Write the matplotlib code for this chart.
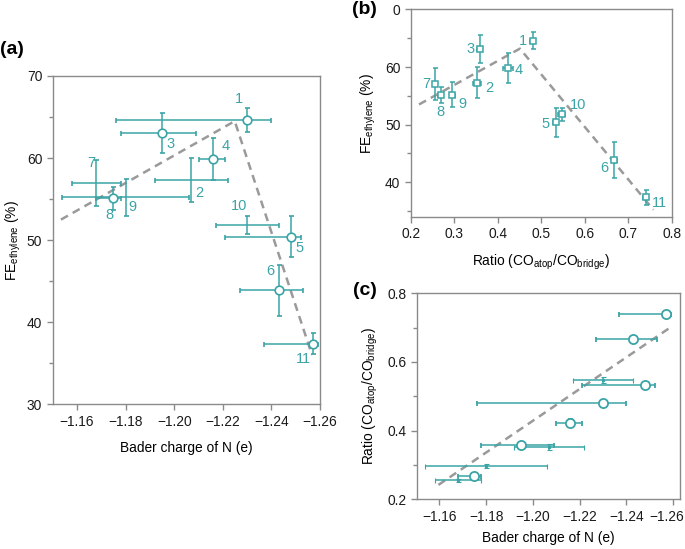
import matplotlib
matplotlib.use("Agg")
import matplotlib.pyplot as plt
import matplotlib.transforms as mtransforms
from matplotlib.ticker import MultipleLocator, FixedLocator
import numpy as np

plt.rcParams['font.family'] = ['Liberation Sans', 'DejaVu Sans']

# ---------------- data (samples 1..11) ----------------
samples = ['1', '2', '3', '4', '5', '6', '7', '8', '9', '10', '11']
bader = [-1.230, -1.207, -1.195, -1.216, -1.248, -1.243, -1.168, -1.175, -1.180, -1.230, -1.257]
bader_err_less = [0.054, 0.015, 0.017, 0.006, 0.027, 0.016, 0.010, 0.007, 0.026, 0.013, 0.020]  # toward less negative
bader_err_more = [0.010, 0.015, 0.014, 0.005, 0.004, 0.010, 0.010, 0.003, 0.026, 0.013, 0.002]  # toward more negative
fe = [64.6, 57.3, 63.1, 59.9, 50.4, 43.9, 57.0, 55.1, 55.2, 51.8, 37.4]
fe_err = [1.45, 2.65, 2.45, 2.6, 2.5, 3.1, 2.8, 1.4, 2.2, 1.1, 1.3]
ratio = [0.480, 0.352, 0.359, 0.423, 0.533, 0.668, 0.255, 0.269, 0.296, 0.547, 0.740]
ratio_err = [0.006, 0.009, 0.006, 0.012, 0.006, 0.006, 0.004, 0.006, 0.006, 0.008, 0.006]

# dashed trend lines (vertices)
trend_a_x = [-1.1534, -1.2249, -1.2567]
trend_a_y = [52.5, 64.5, 36.0]
trend_b_x = [0.219, 0.451, 0.758]
trend_b_y = [53.5, 63.2, 35.2]
trend_c_x = [-1.1596, -1.2593]
trend_c_y = [0.242, 0.703]

# samples drawn with an open marker in (a) and (c)
marked = {'1', '3', '4', '5', '6', '8', '11'}

TEAL = '#3ba4a6'
GRAY = '#8a8a8a'
DASH = '#9a9a9a'
FS = 9.9
NFS = 10.5

fig = plt.figure(figsize=(6.85, 5.49), dpi=100)

def style_axes(ax):
    for s in ax.spines.values():
        s.set_color(GRAY)
        s.set_linewidth(1.0)
    ax.tick_params(which='both', direction='out', color=GRAY, width=1.0,
                   labelsize=FS, labelcolor='#1a1a1a', top=False, right=False)
    ax.tick_params(which='major', length=4)
    ax.tick_params(which='minor', length=3)
    ax.tick_params(axis='x', which='minor', bottom=False)

# errorbar xerr = [minus side, plus side]; "plus" is the less negative side
xerr = np.array([bader_err_more, bader_err_less])

# ---------------- (a) ----------------
axa = fig.add_axes([0.0769, 0.2636, 0.3903, 0.598])
style_axes(axa)
axa.plot(trend_a_x, trend_a_y, ls=(0, (3.2, 2.2)), color=DASH, lw=1.8, zorder=1)
for i, s in enumerate(samples):
    fmt = 'o' if s in marked else 'none'
    axa.errorbar(bader[i], fe[i], xerr=xerr[:, i:i+1], yerr=fe_err[i], fmt=fmt,
                 ms=6.2, mfc='white', mec=TEAL, mew=1.2, ecolor=TEAL, elinewidth=1.1,
                 capsize=1.8, capthick=1.0, zorder=3)
offs_a = {'1': (-6, 15), '2': (6, -9), '3': (6, -8), '4': (9, 9), '5': (6, -8),
          '6': (-6, 14), '7': (-4, 14), '8': (-3, -12), '9': (5, -7), '10': (-6, 14),
          '11': (-7, -11)}
for i, s in enumerate(samples):
    axa.annotate(s, (bader[i], fe[i]), xytext=offs_a[s], textcoords='offset points',
                 ha='center', va='center', color=TEAL, fontsize=NFS, zorder=4)
axa.set_xlim(-1.15, -1.26)
axa.set_ylim(30, 70)
axa.set_xticks([-1.16, -1.18, -1.20, -1.22, -1.24, -1.26])
axa.set_yticks([30, 40, 50, 60, 70])
axa.yaxis.set_minor_locator(MultipleLocator(5))
axa.set_xlabel('Bader charge of N (e)', fontsize=FS, labelpad=9)
axa.set_ylabel('FE$_{\\mathregular{ethylene}}$ (%)', fontsize=FS, labelpad=3)
fig.text(0.0, 0.909, '(a)', fontsize=14, fontweight='bold', ha='left', va='center')

# ---------------- (b) ----------------
axb = fig.add_axes([0.5996, 0.6053, 0.381, 0.3774])
style_axes(axb)
axb.plot(trend_b_x, trend_b_y, ls=(0, (3.2, 2.2)), color=DASH, lw=1.8, zorder=1)
axb.errorbar(ratio, fe, xerr=ratio_err, yerr=fe_err, fmt='s', ms=5.0, mfc='white',
             mec=TEAL, mew=1.1, ecolor=TEAL, elinewidth=1.1, capsize=1.8, capthick=1.0,
             zorder=3)
offs_b = {'1': (-7, 0), '2': (9, -4), '3': (-7, 0), '4': (8, -2), '5': (-7, -1),
          '6': (-7, -6), '7': (-6, 0), '8': (0, -12), '9': (7, -7), '10': (12, 7),
          '11': (10, -4)}
for i, s in enumerate(samples):
    axb.annotate(s, (ratio[i], fe[i]), xytext=offs_b[s], textcoords='offset points',
                 ha='center', va='center', color=TEAL, fontsize=NFS, zorder=4)
axb.set_xlim(0.2, 0.8)
axb.set_ylim(34, 70)
axb.set_xticks([0.2, 0.3, 0.4, 0.5, 0.6, 0.7, 0.8])
axb.yaxis.set_major_locator(FixedLocator([40, 50, 60, 70]))
axb.set_yticklabels(['40', '50', '60', '0'])
axb.yaxis.set_minor_locator(FixedLocator([35, 45, 55, 65]))
axb.set_xlabel('Ratio (CO$_{\\mathregular{atop}}$/CO$_{\\mathregular{bridge}}$)',
               fontsize=FS, labelpad=8)
axb.set_ylabel('FE$_{\\mathregular{ethylene}}$ (%)', fontsize=FS, labelpad=5)
fig.text(0.514, 0.983, '(b)', fontsize=14, fontweight='bold', ha='left', va='center')

# ---------------- (c) ----------------
axc = fig.add_axes([0.6083, 0.0905, 0.3844, 0.3753])
style_axes(axc)
axc.plot(trend_c_x, trend_c_y, ls=(0, (3.2, 2.2)), color=DASH, lw=1.8, zorder=1)
for i, s in enumerate(samples):
    if s in marked:
        kw = dict(fmt='o', ms=6.6, mfc='white', mec=TEAL, mew=1.3)
    else:
        kw = dict(fmt='s', ms=1.6, mfc=TEAL, mec=TEAL, mew=0.8)
    axc.errorbar(bader[i], ratio[i], xerr=xerr[:, i:i+1], yerr=ratio_err[i], ecolor=TEAL,
                 elinewidth=1.1, capsize=1.8, capthick=1.0, zorder=3, **kw)
axc.set_xlim(-1.1503, -1.2629)
axc.set_ylim(0.2, 0.8)
axc.set_xticks([-1.16, -1.18, -1.20, -1.22, -1.24, -1.26])
axc.set_yticks([0.2, 0.4, 0.6, 0.8])
axc.yaxis.set_minor_locator(FixedLocator([0.3, 0.5, 0.7]))
axc.set_xlabel('Bader charge of N (e)', fontsize=FS, labelpad=5)
axc.set_ylabel('Ratio (CO$_{\\mathregular{atop}}$/CO$_{\\mathregular{bridge}}$)',
               fontsize=FS, labelpad=5)
fig.text(0.516, 0.471, '(c)', fontsize=14, fontweight='bold', ha='left', va='center')

# keep the last tick label of (c) inside the figure
last = axc.get_xticklabels()[-1]
last.set_transform(last.get_transform() +
                   mtransforms.ScaledTranslation(-5 / 72, 0, fig.dpi_scale_trans))

fig.savefig('out.png', dpi=100)
